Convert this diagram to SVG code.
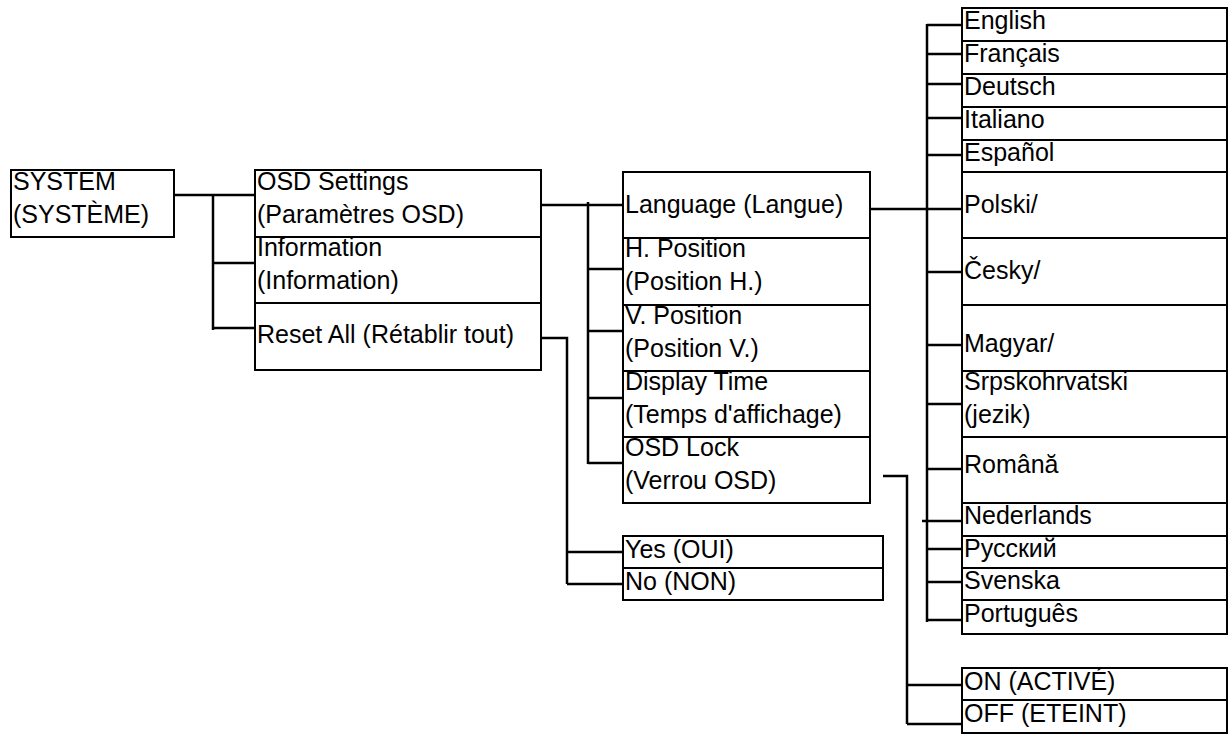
<svg xmlns="http://www.w3.org/2000/svg" width="1232" height="740" viewBox="0 0 1232 740">
<style>
rect{fill:#fff;stroke:#000;stroke-width:2}
rect.bg{stroke:none}
text{font-family:"Liberation Sans",Arial,sans-serif;font-size:25px;fill:#000}
.c path{fill:none;stroke:#000;stroke-width:2.5}
</style>
<rect class="bg" width="1232" height="740"/>
<g class="c" id="connectors">
<path d="M174 195H213M213 194V330M213 195H255M213 263H255M213 328H255"/>
<path d="M541 205H588M588 202V464M588 205H626M588 269H626M588 331H626M588 398H626M588 463H626"/>
<path d="M541 338H567V584M567 552H623M567 584H623"/>
<path d="M870 209H927M927 24V622M927 25H962M927 54H962M927 84H962M927 118H962M927 155H962M927 209H962M927 272H962M927 345H962M927 404H962M927 469H962M922 521H962M927 549H962M927 582H962M927 620H962"/>
<path d="M883 476H907V724M907 685H962M907 724H962"/>
</g>
<g id="system"><rect x="11" y="170" width="163" height="67"/><text x="13" y="190">SYSTEM</text><text x="13" y="223">(SYSTÈME)</text></g>
<g id="osd"><rect x="255" y="170" width="286" height="67"/><text x="257" y="190">OSD Settings</text><text x="257" y="223">(Paramètres OSD)</text></g>
<g id="info"><rect x="255" y="237" width="286" height="66"/><text x="257" y="256">Information</text><text x="257" y="289">(Information)</text></g>
<g id="reset"><rect x="255" y="303" width="286" height="67"/><text x="257" y="343">Reset All (Rétablir tout)</text></g>
<g id="lang"><rect x="623" y="172" width="247" height="66"/><text x="625" y="213">Language (Langue)</text></g>
<g id="hpos"><rect x="623" y="238" width="247" height="67"/><text x="625" y="257">H. Position</text><text x="625" y="290">(Position H.)</text></g>
<g id="vpos"><rect x="623" y="305" width="247" height="66"/><text x="625" y="324">V. Position</text><text x="625" y="357">(Position V.)</text></g>
<g id="dtime"><rect x="623" y="371" width="247" height="66"/><text x="625" y="390">Display Time</text><text x="625" y="423">(Temps d'affichage)</text></g>
<g id="lock"><rect x="623" y="437" width="247" height="66"/><text x="625" y="456">OSD Lock</text><text x="625" y="489">(Verrou OSD)</text></g>
<g id="yes"><rect x="623" y="536" width="260" height="32"/><text x="625" y="558">Yes (OUI)</text></g>
<g id="no"><rect x="623" y="568" width="260" height="32"/><text x="625" y="590">No (NON)</text></g>
<g id="on"><rect x="962" y="668" width="265" height="32"/><text x="964" y="690">ON (ACTIVÉ)</text></g>
<g id="off"><rect x="962" y="700" width="265" height="33"/><text x="964" y="722">OFF (ETEINT)</text></g>
<g id="en"><rect x="962" y="8" width="265" height="33"/><text x="964" y="29">English</text></g>
<g id="fr"><rect x="962" y="41" width="265" height="33"/><text x="964" y="62">Français</text></g>
<g id="de"><rect x="962" y="74" width="265" height="33"/><text x="964" y="95">Deutsch</text></g>
<g id="it"><rect x="962" y="107" width="265" height="33"/><text x="964" y="128">Italiano</text></g>
<g id="es"><rect x="962" y="140" width="265" height="32"/><text x="964" y="161">Español</text></g>
<g id="pl"><rect x="962" y="172" width="265" height="66"/><text x="964" y="213">Polski/</text></g>
<g id="cs"><rect x="962" y="238" width="265" height="67"/><text x="964" y="279">Česky/</text></g>
<g id="hu"><rect x="962" y="305" width="265" height="66"/><text x="964" y="352">Magyar/</text></g>
<g id="sr"><rect x="962" y="371" width="265" height="66"/><text x="964" y="390">Srpskohrvatski</text><text x="964" y="423">(jezik)</text></g>
<g id="ro"><rect x="962" y="437" width="265" height="66"/><text x="964" y="473">Română</text></g>
<g id="nl"><rect x="962" y="503" width="265" height="33"/><text x="964" y="524">Nederlands</text></g>
<g id="ru"><rect x="962" y="536" width="265" height="32"/><text x="964" y="557">Русский</text></g>
<g id="sv"><rect x="962" y="568" width="265" height="32"/><text x="964" y="589">Svenska</text></g>
<g id="pt"><rect x="962" y="600" width="265" height="34"/><text x="964" y="622">Português</text></g>
</svg>
